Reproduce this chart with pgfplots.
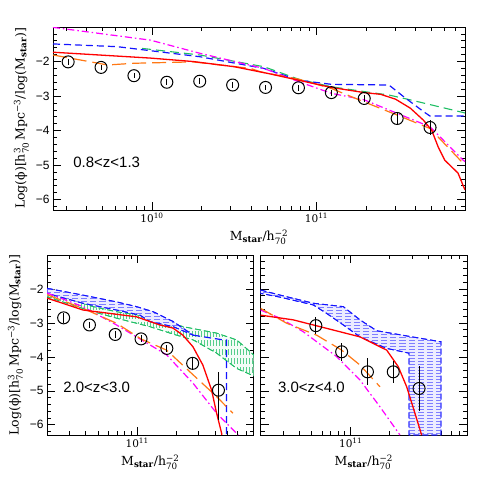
\documentclass[border=0pt]{standalone}
\usepackage{fontspec}
\setmainfont{DejaVu Serif}
\setsansfont{Liberation Sans}
\usepackage{amsmath}
\usepackage{pgfplots}
\pgfplotsset{compat=1.18}
\usetikzlibrary{patterns}

\definecolor{cred}{RGB}{255,0,0}
\definecolor{corange}{RGB}{255,120,20}
\definecolor{cmag}{RGB}{255,0,255}
\definecolor{cblue}{RGB}{20,20,255}
\definecolor{cgreen}{RGB}{30,190,100}

\tikzset{lab/.style={anchor=west, font=\fontsize{15}{17}\sffamily}}

\pgfplotsset{
  panel/.style={
    scale only axis,
    ymin=-6.3, ymax=-1.0,
    ytick={-6,-5,-4,-3,-2},
    yticklabels={−6,−5,−4,−3,−2},
    minor ytick={-6.2,-5.8,-5.6,-5.4,-5.2,-4.8,-4.6,-4.4,-4.2,-3.8,-3.6,-3.4,-3.2,-2.8,-2.6,-2.4,-2.2,-1.8,-1.6,-1.4,-1.2},
    tick align=inside,
    major tick length=8pt, minor tick length=4pt,
    every tick/.style={black, line width=0.7pt},
    axis line style={line width=0.8pt},
    yticklabel style={font=\fontsize{12}{14}\sffamily},
    xticklabel style={font=\fontsize{10.5}{12}\selectfont},
    label style={font=\fontsize{12.5}{15}\selectfont},
    xlabel={M\textsubscript{\textbf{star}}/h$^{\text{−2}}_{\text{70}}$},
  },
  botpanel/.style={
    panel, width=206.7pt, height=180pt,
    xmin=10.30103, xmax=11.90309,
    xtick={11}, xticklabels={10\textsuperscript{11}},
    minor xtick={10.47712,10.60206,10.69897,10.77815,10.84510,10.90309,10.95424,11.30103,11.47712,11.60206,11.69897,11.77815,11.84510},
  },
  pts/.style={only marks, mark=o, mark size=6pt, black, line width=1pt,
    error bars/.cd, y dir=both, y explicit, error mark=none,
    error bar style={line width=0.8pt}},
  lred/.style={cred, line width=1.3pt, solid},
  lora/.style={corange, line width=1.2pt, dash pattern=on 14pt off 6pt},
  lmag/.style={cmag, line width=1.2pt, dash pattern=on 7pt off 3pt on 1.5pt off 3pt},
  lblue/.style={cblue, line width=1.2pt, dash pattern=on 7pt off 4pt},
  lgreen/.style={cgreen, line width=1.1pt, dash pattern=on 9pt off 5pt},
  bluearea/.style={cblue, line width=0.9pt, dash pattern=on 6pt off 3pt, fill=cblue!8,
    postaction={pattern=horizontal lines, pattern color=cblue!55}},
  greenarea/.style={cgreen, line width=0.8pt, dash pattern=on 6pt off 3pt, fill=cgreen!5,
    postaction={pattern=vertical lines, pattern color=cgreen!75}},
}

\begin{document}
\begin{tikzpicture}
\path[use as bounding box] (0pt,0pt) rectangle (491pt,-491pt);

% top panel
\begin{axis}[panel, at={(53pt,-210pt)}, anchor=south west,
  width=412.1pt, height=183pt,
  xmin=9.39794, xmax=11.90309,
  xtick={10,11}, xticklabels={10\textsuperscript{10},10\textsuperscript{11}},
  minor xtick={9.47712,9.60206,9.69897,9.77815,9.84510,9.90309,9.95424,10.30103,10.47712,10.60206,10.69897,10.77815,10.84510,10.90309,10.95424,11.30103,11.47712,11.60206,11.69897,11.77815,11.84510},
  ylabel={Log(ϕ)[h$^{\text{3}}_{\text{70}}$\,Mpc$^{\text{−3}}$/log(M\textsubscript{\textbf{star}})]},
]
\addplot[lgreen] coordinates {(9.94,-1.62)(10.29,-1.81)(10.68,-2.15)(10.89,-2.51)(11.09,-2.73)(11.29,-2.87)(11.44,-2.97)(11.57,-3.11)(11.903,-3.49)};
\addplot[lblue] coordinates {(9.398,-1.49)(9.79,-1.57)(10.29,-1.86)(10.68,-2.20)(10.89,-2.54)(11.09,-2.66)(11.44,-2.68)(11.53,-3.02)(11.65,-3.45)(11.69,-3.58)(11.903,-3.58)};
\addplot[lmag] coordinates {(9.398,-1.01)(9.99,-1.38)(10.29,-1.76)(10.68,-2.20)(10.89,-2.58)(11.09,-2.92)(11.29,-3.11)(11.49,-3.50)(11.69,-3.89)(11.89,-4.85)(11.903,-4.90)};
\addplot[lora] coordinates {(9.398,-1.81)(9.73,-2.10)(9.89,-2.05)(10.25,-2.01)(10.60,-2.20)(10.66,-2.30)(10.89,-2.51)(11.09,-2.78)(11.29,-3.17)(11.49,-3.55)(11.69,-3.94)(11.89,-4.94)(11.903,-4.98)};
\addplot[lred] coordinates {(9.398,-1.73)(9.99,-1.90)(10.25,-2.00)(10.50,-2.15)(10.70,-2.34)(10.89,-2.54)(11.09,-2.75)(11.29,-2.90)(11.39,-2.95)(11.48,-3.09)(11.57,-3.35)(11.65,-3.70)(11.70,-3.99)(11.74,-4.48)(11.78,-4.86)(11.86,-5.23)(11.89,-5.58)(11.903,-5.72)};
\addplot[pts] coordinates {
 (9.49,-2.01) +- (0,0.08)
 (9.69,-2.17) +- (0,0.08)
 (9.89,-2.41) +- (0,0.08)
 (10.09,-2.60) +- (0,0.08)
 (10.29,-2.57) +- (0,0.08)
 (10.49,-2.68) +- (0,0.08)
 (10.69,-2.75) +- (0,0.08)
 (10.89,-2.76) +- (0,0.08)
 (11.09,-2.90) +- (0,0.09)
 (11.29,-3.07) +- (0,0.10)
 (11.49,-3.65) +- (0,0.20)
 (11.69,-3.91) +- (0,0.22)
};
\node[lab] at (axis cs:9.50,-4.91) {0.8<z<1.3};
\end{axis}

% bottom left panel
\begin{axis}[botpanel, at={(47pt,-435pt)}, anchor=south west,
  ylabel={Log(ϕ)[h$^{\text{3}}_{\text{70}}$\,Mpc$^{\text{−3}}$/log(M\textsubscript{\textbf{star}})]},
]
\addplot[greenarea] coordinates {
 (10.301,-2.08)(10.659,-2.52)(10.840,-2.67)(11.098,-2.82)(11.357,-3.11)(11.616,-3.30)(11.771,-3.50)(11.903,-3.94)
 (11.903,-4.56)(11.771,-4.34)(11.616,-3.89)(11.434,-3.50)(11.305,-3.36)(11.098,-3.11)(10.840,-2.86)(10.659,-2.67)(10.301,-2.23)} -- cycle;
\addplot[bluearea] coordinates {
 (10.301,-1.98)(10.579,-2.18)(10.840,-2.38)(10.995,-2.52)(11.124,-2.67)(11.279,-2.96)(11.434,-3.36)
 (11.279,-3.11)(11.098,-2.96)(11.021,-2.77)(10.840,-2.62)(10.579,-2.42)(10.301,-2.13)} -- cycle;
\addplot[lblue] coordinates {(11.434,-3.36)(11.667,-3.50)(11.693,-3.50)(11.693,-6.3)};
\addplot[lmag] coordinates {(10.302,-2.12)(10.579,-2.52)(10.840,-3.06)(11.034,-3.50)(11.228,-3.94)(11.434,-4.78)(11.616,-5.66)(11.783,-6.30)};
\addplot[lora] coordinates {(10.302,-2.17)(10.579,-2.57)(10.840,-3.01)(11.034,-3.48)(11.228,-3.80)(11.434,-4.53)(11.616,-5.17)(11.742,-5.66)};
\addplot[lred] coordinates {(10.302,-2.27)(10.581,-2.62)(10.995,-2.82)(11.176,-3.06)(11.277,-3.15)(11.354,-3.36)(11.432,-3.70)(11.509,-4.24)(11.577,-4.98)(11.615,-5.65)(11.654,-6.24)(11.656,-6.30)};
\addplot[pts] coordinates {
 (10.43,-2.85) +- (0,0.15)
 (10.63,-3.06) +- (0,0.10)
 (10.83,-3.34) +- (0,0.10)
 (11.03,-3.47) +- (0,0.10)
 (11.23,-3.75) +- (0,0.10)
 (11.43,-4.19) +- (0,0.20)
 (11.63,-4.98) += (0,0.53) -= (0,0.88)
};
\node[lab] at (axis cs:10.40,-4.89) {2.0<z<3.0};
\end{axis}

% bottom right panel
\begin{axis}[botpanel, at={(260.5pt,-435pt)}, anchor=south west,
  yticklabels={},
]
\addplot[bluearea] coordinates {
 (10.301,-2.03)(10.452,-2.18)(10.710,-2.42)(10.943,-2.52)(11.072,-2.91)(11.202,-3.23)(11.690,-3.55)(11.700,-3.55)(11.700,-6.3)
 (11.452,-6.3)(11.452,-3.89)(11.279,-3.75)(11.072,-3.41)(10.943,-3.06)(10.814,-2.72)(10.710,-2.47)(10.452,-2.24)(10.301,-2.13)} -- cycle;
\addplot[lmag] coordinates {(10.301,-2.62)(10.452,-2.86)(10.633,-3.26)(10.891,-3.99)(11.072,-4.68)(11.227,-5.47)(11.382,-6.30)};
\addplot[lora] coordinates {(10.301,-2.57)(10.504,-3.01)(10.736,-3.36)(10.930,-3.80)(11.072,-4.24)(11.227,-4.88)};
\addplot[lred] coordinates {(10.301,-2.77)(10.555,-2.91)(10.814,-3.16)(11.072,-3.41)(11.279,-3.80)(11.369,-4.29)(11.434,-4.88)(11.498,-5.66)(11.550,-6.30)};
\addplot[pts] coordinates {
 (10.73,-3.08) +- (0,0.25)
 (10.93,-3.85) +- (0,0.27)
 (11.13,-4.44) +- (0,0.40)
 (11.33,-4.44) +- (0,0.33)
 (11.53,-4.93) +- (0,0.65)
};
\node[lab] at (axis cs:10.41,-4.89) {3.0<z<4.0};
\end{axis}
\end{tikzpicture}
\end{document}
